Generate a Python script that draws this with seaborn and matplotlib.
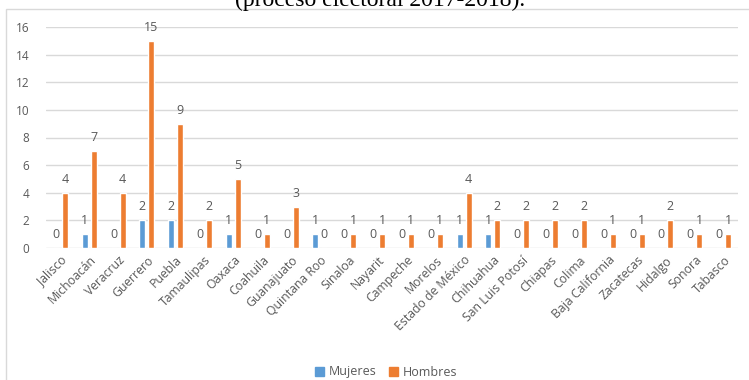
import matplotlib
matplotlib.use("Agg")
import matplotlib.pyplot as plt
from matplotlib.patches import Rectangle
import seaborn as sns
import pandas as pd

estados = [
    "Jalisco", "Michoacán", "Veracruz", "Guerrero", "Puebla", "Tamaulipas",
    "Oaxaca", "Coahuila", "Guanajuato", "Quintana Roo", "Sinaloa", "Nayarit",
    "Campeche", "Morelos", "Estado de México", "Chihuahua", "San Luis Potosí",
    "Chiapas", "Colima", "Baja California", "Zacatecas", "Hidalgo", "Sonora",
    "Tabasco",
]
mujeres = [0, 1, 0, 2, 2, 0, 1, 0, 0, 1, 0, 0, 0, 0, 1, 1, 0, 0, 0, 0, 0, 0, 0, 0]
hombres = [4, 7, 4, 15, 9, 2, 5, 1, 3, 0, 1, 1, 1, 1, 4, 2, 2, 2, 2, 1, 1, 2, 1, 1]
series = ["Mujeres", "Hombres"]
colores = ["#5B9BD5", "#ED7D31"]
y_ticks = [0, 2, 4, 6, 8, 10, 12, 14, 16]
titulo = "(proceso electoral 2017-2018)."

df = pd.DataFrame({
    "Estado": estados * 2,
    "Sexo": [series[0]] * len(estados) + [series[1]] * len(estados),
    "Valor": mujeres + hombres,
})

sns.set_style("white")
plt.rcParams["font.family"] = ["Open Sans", "DejaVu Sans"]
gris = "#595959"

W, H = 749, 380
fig = plt.figure(figsize=(W / 100, H / 100), dpi=100)
ax = fig.add_axes([46 / W, 1 - 248 / H, (738 - 46) / W, (248 - 27) / H])

sns.barplot(
    data=df, x="Estado", y="Valor", hue="Sexo", order=estados,
    hue_order=series, palette=colores, width=0.625, gap=0.33,
    saturation=1, legend=False, ax=ax, errorbar=None,
)

for cont in ax.containers:
    ax.bar_label(cont, labels=[f"{int(v)}" for v in cont.datavalues],
                 padding=5, fontsize=9, color=gris)

ax.set_ylim(0, 16)
ax.set_yticks(y_ticks)
ax.set_xlim(-0.5, len(estados) - 0.5)
ax.yaxis.grid(True, color="#D9D9D9", linewidth=1)
ax.set_axisbelow(True)
for s in ax.spines.values():
    s.set_visible(False)
ax.set_xlabel("")
ax.set_ylabel("")
ax.tick_params(axis="y", length=0, pad=12, labelsize=8.5, labelcolor=gris)
ax.tick_params(axis="x", length=0, pad=4, labelsize=8.8, labelcolor=gris)
ax.set_xticks(range(len(estados)))
ax.set_xticklabels(estados, rotation=45, ha="right", rotation_mode="anchor")

# legend below the category labels
handles = [plt.Rectangle((0, 0), 1, 1, color=c) for c in colores]
fig.legend(handles, series, loc="center", bbox_to_anchor=(386 / W, 1 - 372 / H),
           ncol=2, frameon=False, fontsize=9, labelcolor=gris,
           handlelength=0.7, handleheight=0.7, handletextpad=0.4,
           columnspacing=1.0)

# chart frame
fig.patches.append(Rectangle((6 / W, -0.01), 1.0, 1 - 9 / H + 0.01,
                             transform=fig.transFigure, fill=False,
                             edgecolor="#D9D9D9", linewidth=1))

# caption line from the surrounding document
fig.text(380 / W, 1 - 6 / H, titulo, ha="center", va="baseline",
         fontsize=17, family="Liberation Serif", color="black")

fig.savefig("out.png", dpi=100)
